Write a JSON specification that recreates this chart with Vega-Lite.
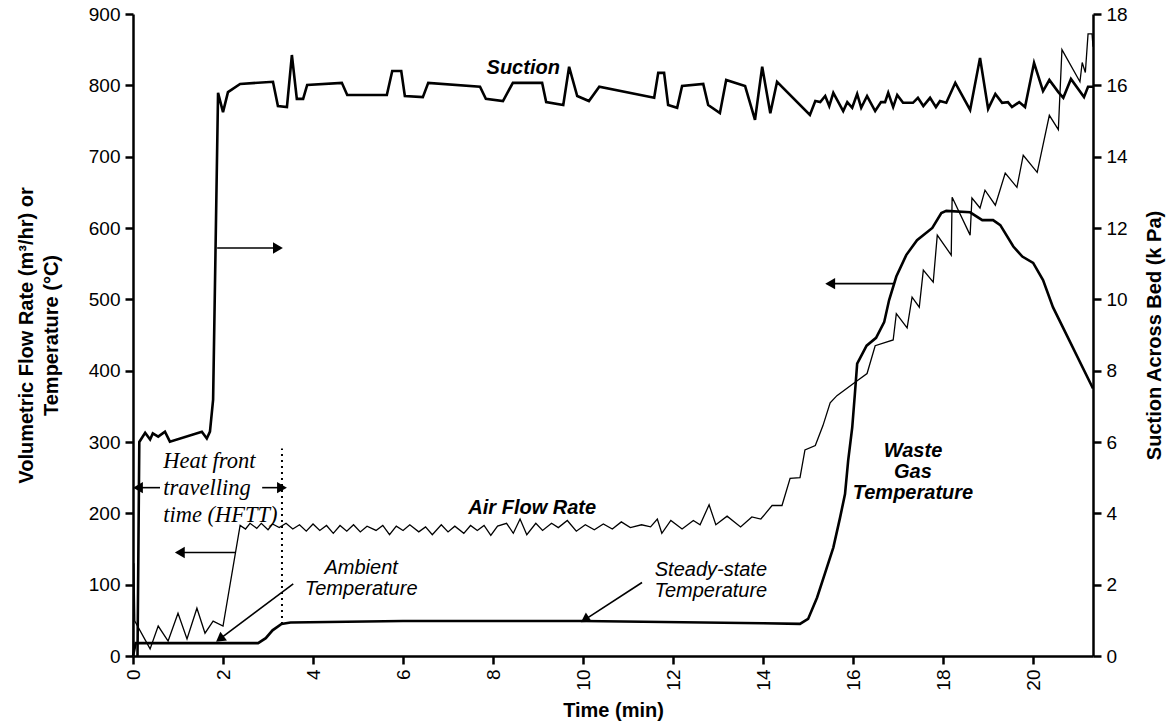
{
  "$schema": "https://vega.github.io/schema/vega-lite/v6.json",
  "width": 960,
  "height": 642,
  "autosize": {"type": "none"},
  "padding": {"left": 133, "top": 14, "right": 78, "bottom": 68},
  "background": "white",
  "config": {
    "view": {"stroke": null},
    "axis": {
      "domainColor": "black", "domainWidth": 2.5, "tickColor": "black", "tickWidth": 2.5, "tickSize": 8,
      "labelFont": "Liberation Sans", "labelFontSize": 19, "labelColor": "black", "labelPadding": 5,
      "titleFont": "Liberation Sans", "titleFontWeight": "bold", "titleFontSize": 20, "titleColor": "black",
      "grid": false
    }
  },
  "datasets": {
    "suction": [
      {"t": 0.1, "s": 0}, {"t": 0.14, "s": 6.0}, {"t": 0.27, "s": 6.26}, {"t": 0.38, "s": 6.07}, {"t": 0.44, "s": 6.24},
      {"t": 0.56, "s": 6.15}, {"t": 0.71, "s": 6.29}, {"t": 0.82, "s": 6.01}, {"t": 1.53, "s": 6.29}, {"t": 1.64, "s": 6.10},
      {"t": 1.71, "s": 6.29}, {"t": 1.78, "s": 7.19}, {"t": 1.89, "s": 15.79}, {"t": 2.0, "s": 15.25}, {"t": 2.11, "s": 15.81},
      {"t": 2.38, "s": 16.04}, {"t": 3.11, "s": 16.10}, {"t": 3.22, "s": 15.42}, {"t": 3.42, "s": 15.39}, {"t": 3.53, "s": 16.85},
      {"t": 3.64, "s": 15.62}, {"t": 3.78, "s": 15.62}, {"t": 3.87, "s": 16.01}, {"t": 4.64, "s": 16.07}, {"t": 4.76, "s": 15.73},
      {"t": 5.64, "s": 15.73}, {"t": 5.76, "s": 16.40}, {"t": 5.96, "s": 16.40}, {"t": 6.04, "s": 15.70}, {"t": 6.44, "s": 15.67},
      {"t": 6.56, "s": 16.07}, {"t": 7.71, "s": 15.96}, {"t": 7.84, "s": 15.62}, {"t": 8.22, "s": 15.56}, {"t": 8.44, "s": 16.07},
      {"t": 9.09, "s": 16.07}, {"t": 9.18, "s": 15.53}, {"t": 9.56, "s": 15.45}, {"t": 9.69, "s": 16.52}, {"t": 9.87, "s": 15.70},
      {"t": 10.13, "s": 15.56}, {"t": 10.36, "s": 15.96}, {"t": 11.58, "s": 15.65}, {"t": 11.67, "s": 16.35}, {"t": 11.80, "s": 16.35},
      {"t": 11.89, "s": 15.45}, {"t": 12.09, "s": 15.37}, {"t": 12.20, "s": 15.98}, {"t": 12.67, "s": 16.04}, {"t": 12.78, "s": 15.45},
      {"t": 13.04, "s": 15.22}, {"t": 13.18, "s": 16.15}, {"t": 13.60, "s": 15.98}, {"t": 13.82, "s": 15.03}, {"t": 13.98, "s": 16.52},
      {"t": 14.16, "s": 15.22}, {"t": 14.31, "s": 16.10}, {"t": 15.04, "s": 15.17}, {"t": 15.16, "s": 15.56}, {"t": 15.27, "s": 15.53},
      {"t": 15.38, "s": 15.70}, {"t": 15.47, "s": 15.42}, {"t": 15.56, "s": 15.79}, {"t": 15.78, "s": 15.28}, {"t": 15.87, "s": 15.53},
      {"t": 15.98, "s": 15.37}, {"t": 16.09, "s": 15.76}, {"t": 16.18, "s": 15.37}, {"t": 16.31, "s": 15.70}, {"t": 16.49, "s": 15.28},
      {"t": 16.62, "s": 15.53}, {"t": 16.71, "s": 15.53}, {"t": 16.78, "s": 15.79}, {"t": 16.89, "s": 15.39}, {"t": 16.98, "s": 15.73},
      {"t": 17.11, "s": 15.51}, {"t": 17.33, "s": 15.51}, {"t": 17.44, "s": 15.65}, {"t": 17.56, "s": 15.42}, {"t": 17.71, "s": 15.65},
      {"t": 17.84, "s": 15.39}, {"t": 17.93, "s": 15.56}, {"t": 18.07, "s": 15.51}, {"t": 18.27, "s": 16.07}, {"t": 18.60, "s": 15.31},
      {"t": 18.82, "s": 16.77}, {"t": 19.00, "s": 15.34}, {"t": 19.16, "s": 15.76}, {"t": 19.31, "s": 15.51}, {"t": 19.44, "s": 15.53},
      {"t": 19.53, "s": 15.39}, {"t": 19.69, "s": 15.53}, {"t": 19.82, "s": 15.39}, {"t": 20.02, "s": 16.63}, {"t": 20.22, "s": 15.84},
      {"t": 20.36, "s": 16.15}, {"t": 20.56, "s": 15.81}, {"t": 20.67, "s": 15.65}, {"t": 20.84, "s": 16.18}, {"t": 21.13, "s": 15.67},
      {"t": 21.22, "s": 15.96}, {"t": 21.33, "s": 15.96}
    ],
    "air": [
      {"t": 0.0, "v": 0}, {"t": 0.02, "v": 130}, {"t": 0.04, "v": 49}, {"t": 0.38, "v": 10}, {"t": 0.56, "v": 42}, {"t": 0.78, "v": 21},
      {"t": 1.0, "v": 60}, {"t": 1.2, "v": 24}, {"t": 1.42, "v": 67}, {"t": 1.6, "v": 32}, {"t": 1.78, "v": 49},
      {"t": 2.0, "v": 42}, {"t": 2.38, "v": 183}, {"t": 2.5, "v": 178}, {"t": 2.6, "v": 186}, {"t": 2.75, "v": 179},
      {"t": 2.85, "v": 186}, {"t": 3.0, "v": 177}, {"t": 3.1, "v": 185}, {"t": 3.25, "v": 180}, {"t": 3.4, "v": 186},
      {"t": 3.55, "v": 178}, {"t": 3.7, "v": 184}, {"t": 3.85, "v": 175}, {"t": 4.0, "v": 185}, {"t": 4.15, "v": 176},
      {"t": 4.3, "v": 183}, {"t": 4.45, "v": 172}, {"t": 4.6, "v": 183}, {"t": 4.75, "v": 175}, {"t": 4.9, "v": 184},
      {"t": 5.05, "v": 174}, {"t": 5.2, "v": 182}, {"t": 5.4, "v": 176}, {"t": 5.55, "v": 183}, {"t": 5.7, "v": 170},
      {"t": 5.85, "v": 182}, {"t": 6.0, "v": 176}, {"t": 6.15, "v": 184}, {"t": 6.35, "v": 174}, {"t": 6.5, "v": 181},
      {"t": 6.65, "v": 170}, {"t": 6.85, "v": 184}, {"t": 7.0, "v": 174}, {"t": 7.15, "v": 182}, {"t": 7.35, "v": 172},
      {"t": 7.5, "v": 183}, {"t": 7.65, "v": 176}, {"t": 7.8, "v": 183}, {"t": 7.95, "v": 169}, {"t": 8.1, "v": 182},
      {"t": 8.3, "v": 186}, {"t": 8.45, "v": 172}, {"t": 8.6, "v": 192}, {"t": 8.75, "v": 170}, {"t": 8.95, "v": 186},
      {"t": 9.1, "v": 176}, {"t": 9.3, "v": 186}, {"t": 9.45, "v": 180}, {"t": 9.65, "v": 190}, {"t": 9.85, "v": 175},
      {"t": 10.05, "v": 184}, {"t": 10.25, "v": 177}, {"t": 10.45, "v": 185}, {"t": 10.65, "v": 178}, {"t": 10.85, "v": 188},
      {"t": 11.05, "v": 180}, {"t": 11.3, "v": 184}, {"t": 11.5, "v": 181}, {"t": 11.65, "v": 192}, {"t": 11.75, "v": 172},
      {"t": 11.95, "v": 190}, {"t": 12.2, "v": 178}, {"t": 12.45, "v": 190}, {"t": 12.6, "v": 184}, {"t": 12.8, "v": 212},
      {"t": 12.95, "v": 184}, {"t": 13.2, "v": 196}, {"t": 13.5, "v": 181}, {"t": 13.75, "v": 195}, {"t": 13.95, "v": 192},
      {"t": 14.2, "v": 211}, {"t": 14.42, "v": 211}, {"t": 14.6, "v": 249}, {"t": 14.82, "v": 250}, {"t": 14.93, "v": 289},
      {"t": 15.16, "v": 295}, {"t": 15.33, "v": 323}, {"t": 15.49, "v": 355}, {"t": 15.64, "v": 365}, {"t": 16.09, "v": 386},
      {"t": 16.31, "v": 396}, {"t": 16.49, "v": 435}, {"t": 16.89, "v": 443}, {"t": 16.96, "v": 480}, {"t": 17.2, "v": 460},
      {"t": 17.31, "v": 503}, {"t": 17.47, "v": 489}, {"t": 17.56, "v": 541}, {"t": 17.78, "v": 524}, {"t": 17.87, "v": 590},
      {"t": 18.18, "v": 562}, {"t": 18.2, "v": 643}, {"t": 18.6, "v": 590}, {"t": 18.64, "v": 642}, {"t": 18.82, "v": 628},
      {"t": 18.93, "v": 653}, {"t": 19.16, "v": 632}, {"t": 19.38, "v": 677}, {"t": 19.64, "v": 657}, {"t": 19.78, "v": 702},
      {"t": 20.09, "v": 678}, {"t": 20.36, "v": 758}, {"t": 20.56, "v": 738}, {"t": 20.64, "v": 850}, {"t": 21.04, "v": 805},
      {"t": 21.09, "v": 832}, {"t": 21.16, "v": 818}, {"t": 21.22, "v": 872}, {"t": 21.31, "v": 872}, {"t": 21.33, "v": 854}
    ],
    "temp": [
      {"t": 0.0, "v": 0}, {"t": 0.06, "v": 18}, {"t": 2.78, "v": 18}, {"t": 2.95, "v": 25}, {"t": 3.1, "v": 36}, {"t": 3.3, "v": 45},
      {"t": 3.5, "v": 47}, {"t": 6.0, "v": 49}, {"t": 10.0, "v": 49}, {"t": 14.0, "v": 46}, {"t": 14.82, "v": 45},
      {"t": 15.0, "v": 52}, {"t": 15.2, "v": 82}, {"t": 15.38, "v": 117}, {"t": 15.56, "v": 152}, {"t": 15.71, "v": 194},
      {"t": 15.82, "v": 227}, {"t": 15.89, "v": 274}, {"t": 15.98, "v": 320}, {"t": 16.04, "v": 368}, {"t": 16.09, "v": 410},
      {"t": 16.3, "v": 435}, {"t": 16.51, "v": 446}, {"t": 16.69, "v": 468}, {"t": 16.8, "v": 499}, {"t": 16.96, "v": 532},
      {"t": 17.18, "v": 562}, {"t": 17.42, "v": 583}, {"t": 17.76, "v": 600}, {"t": 17.96, "v": 621}, {"t": 18.07, "v": 624},
      {"t": 18.6, "v": 622}, {"t": 18.87, "v": 611}, {"t": 19.11, "v": 611}, {"t": 19.27, "v": 604}, {"t": 19.56, "v": 574},
      {"t": 19.76, "v": 560}, {"t": 20.0, "v": 551}, {"t": 20.22, "v": 527}, {"t": 20.44, "v": 489}, {"t": 21.33, "v": 375}
    ],
    "arrows": [
      {"t": 1.87, "v": 572, "t2": 3.22, "v2": 572},
      {"t": 2.27, "v": 145, "t2": 1.04, "v2": 145},
      {"t": 16.89, "v": 522, "t2": 15.49, "v2": 522},
      {"t": 0.6, "v": 236, "t2": 0.11, "v2": 236},
      {"t": 2.87, "v": 236, "t2": 3.31, "v2": 236},
      {"t": 3.56, "v": 101, "t2": 1.93, "v2": 24},
      {"t": 11.31, "v": 103, "t2": 10.04, "v2": 51}
    ]
  },
  "layer": [
    {
      "layer": [
        {
          "data": {"name": "air"},
          "mark": {"type": "line", "color": "black", "strokeWidth": 1.3},
          "encoding": {
            "x": {"field": "t", "type": "quantitative", "scale": {"domain": [0, 21.33], "nice": false},
              "axis": {"values": [0, 2, 4, 6, 8, 10, 12, 14, 16, 18, 20], "labelAngle": 270, "title": "Time (min)", "titlePadding": 10}},
            "y": {"field": "v", "type": "quantitative", "scale": {"domain": [0, 900], "nice": false},
              "axis": {"values": [0, 100, 200, 300, 400, 500, 600, 700, 800, 900],
                "title": ["Volumetric Flow Rate (m³/hr) or", "Temperature (°C)"], "titlePadding": 27, "titleLineHeight": 25}}
          }
        },
        {
          "data": {"name": "temp"},
          "mark": {"type": "line", "color": "black", "strokeWidth": 2.6},
          "encoding": {
            "x": {"field": "t", "type": "quantitative"},
            "y": {"field": "v", "type": "quantitative"}
          }
        },
        {
          "data": {"values": [{"t": 3.31, "v": 45, "v2": 291}]},
          "mark": {"type": "rule", "color": "black", "strokeWidth": 2, "strokeDash": [2, 4]},
          "encoding": {
            "x": {"field": "t", "type": "quantitative"},
            "y": {"field": "v", "type": "quantitative"},
            "y2": {"field": "v2"}
          }
        },
        {
          "data": {"name": "arrows"},
          "mark": {"type": "rule", "color": "black", "strokeWidth": 1.6},
          "encoding": {
            "x": {"field": "t", "type": "quantitative"},
            "y": {"field": "v", "type": "quantitative"},
            "x2": {"field": "t2"},
            "y2": {"field": "v2"}
          }
        },
        {
          "data": {"values": [{"t": 3.22, "v": 572}, {"t": 3.31, "v": 236}]},
          "mark": {"type": "point", "shape": "triangle-right", "filled": true, "color": "black", "size": 130, "opacity": 1},
          "encoding": {
            "x": {"field": "t", "type": "quantitative"},
            "y": {"field": "v", "type": "quantitative"}
          }
        },
        {
          "data": {"values": [{"t": 1.04, "v": 145}, {"t": 15.49, "v": 522}, {"t": 0.11, "v": 236}]},
          "mark": {"type": "point", "shape": "triangle-left", "filled": true, "color": "black", "size": 130, "opacity": 1},
          "encoding": {
            "x": {"field": "t", "type": "quantitative"},
            "y": {"field": "v", "type": "quantitative"}
          }
        },
        {
          "data": {"values": [{"t": 1.93, "v": 24}]},
          "mark": {"type": "point", "shape": "triangle-up", "angle": 233, "filled": true, "color": "black", "size": 120, "opacity": 1},
          "encoding": {
            "x": {"field": "t", "type": "quantitative"},
            "y": {"field": "v", "type": "quantitative"}
          }
        },
        {
          "data": {"values": [{"t": 10.04, "v": 51}]},
          "mark": {"type": "point", "shape": "triangle-up", "angle": 237, "filled": true, "color": "black", "size": 120, "opacity": 1},
          "encoding": {
            "x": {"field": "t", "type": "quantitative"},
            "y": {"field": "v", "type": "quantitative"}
          }
        },
        {
          "data": {"values": [
            {"t": 8.67, "v": 824, "label": "Suction"},
            {"t": 8.87, "v": 208, "label": "Air Flow Rate"},
            {"t": 17.33, "v": 288, "label": "Waste\nGas\nTemperature"}
          ]},
          "mark": {"type": "text", "font": "Liberation Sans", "fontSize": 20, "fontWeight": "bold", "fontStyle": "italic", "color": "black", "lineBreak": "\n", "lineHeight": 21, "baseline": "middle", "align": "center"},
          "encoding": {
            "x": {"field": "t", "type": "quantitative"},
            "y": {"field": "v", "type": "quantitative"},
            "text": {"field": "label"}
          }
        },
        {
          "data": {"values": [
            {"t": 5.07, "v": 124, "label": "Ambient\nTemperature"},
            {"t": 12.84, "v": 121, "label": "Steady-state\nTemperature"}
          ]},
          "mark": {"type": "text", "font": "Liberation Sans", "fontSize": 20, "fontStyle": "italic", "color": "black", "lineBreak": "\n", "lineHeight": 21, "baseline": "middle", "align": "center"},
          "encoding": {
            "x": {"field": "t", "type": "quantitative"},
            "y": {"field": "v", "type": "quantitative"},
            "text": {"field": "label"}
          }
        },
        {
          "data": {"values": [{"t": 0.67, "v": 274, "label": "Heat front\ntravelling\ntime (HFTT)"}]},
          "mark": {"type": "text", "font": "Liberation Serif", "fontSize": 22.5, "fontStyle": "italic", "color": "black", "lineBreak": "\n", "lineHeight": 27, "baseline": "middle", "align": "left"},
          "encoding": {
            "x": {"field": "t", "type": "quantitative"},
            "y": {"field": "v", "type": "quantitative"},
            "text": {"field": "label"}
          }
        }
      ]
    },
    {
      "data": {"name": "suction"},
      "mark": {"type": "line", "color": "black", "strokeWidth": 2.6},
      "encoding": {
        "x": {"field": "t", "type": "quantitative"},
        "y": {"field": "s", "type": "quantitative", "scale": {"domain": [0, 18], "nice": false},
          "axis": {"orient": "right", "values": [0, 2, 4, 6, 8, 10, 12, 14, 16, 18], "title": "Suction Across Bed (k Pa)",
            "titleAngle": 270, "titleBaseline": "top", "titlePadding": 17}}
      }
    }
  ],
  "resolve": {"scale": {"y": "independent"}}
}
